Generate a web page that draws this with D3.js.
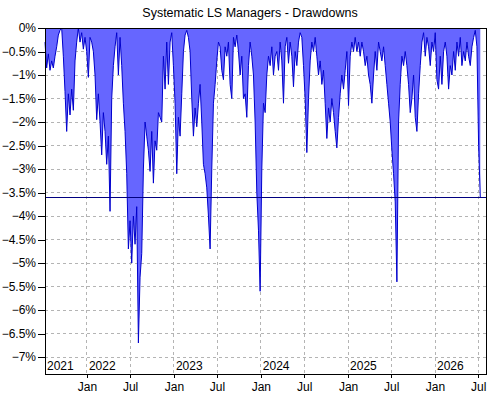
<!DOCTYPE html>
<html>
<head>
<meta charset="utf-8">
<script src="https://cdn.jsdelivr.net/npm/d3@7"></script>
<style>
  body { margin: 0; background: #fff; }
  svg { display: block; }
  text { font-family: "Liberation Sans", Arial, sans-serif; fill: #000; }
</style>
</head>
<body>
<svg width="500" height="400"></svg>
<script>
const title = "Systematic LS Managers - Drawdowns";

// weekly observations, first one on this date
const firstWeek = "2021-07-09";
const axisEnd = "2026-08-03";

// drawdown in %, one value per week
const drawdown = [
  -0.3, -0.85, -0.55, -0.9, -0.7, -0.85, -0.6, -0.4, -0.15, -0.05,
  0, -0.6, -1.35, -2.2, -1.4, -1.85, -1.3, -1.75, -0.7, -0.3,
  0, -0.3, -0.1, -0.45, -0.2, -0.5, -1.05, -0.2, -0.3, -0.5,
  -1.0, -1.95, -1.4, -2.0, -2.7, -1.8, -2.2, -2.9, -2.3, -3.9,
  -1.5, -0.8, -0.4, -0.1, -1.0, -0.2, -0.8, -1.6, -2.2, -3.1,
  -4.7, -4.1, -5.0, -4.0, -4.6, -3.8, -6.7, -5.3, -4.8, -3.0,
  -2.0, -2.3, -2.6, -3.05, -2.2, -3.3, -2.4, -2.6, -1.8, -1.9,
  -2.0, -0.6, -1.3, -0.3, -1.2, -0.3, -0.1, -0.8, -1.6, -3.1,
  -1.9, -2.3, -1.4, -0.5, -0.15, -0.05, -0.2, -0.5, -1.5, -2.3,
  -1.7, -2.1, -1.6, -1.2, -2.0, -2.9, -3.1, -3.4, -4.0, -4.7,
  -3.0, -1.6, -1.2, -0.7, -0.3, -0.4, -0.9, -1.1, -0.4, -0.6,
  -0.3, -1.2, -1.5, -0.2, -0.4, -0.15, -0.5, -1.0, -0.6, -1.5,
  -1.4, -1.9, -0.8, -0.3, -0.6, -1.0, -2.0, -3.5, -4.3, -5.6,
  -3.0, -1.6, -1.8, -1.0, -0.6, -0.8, -0.4, -1.0, -0.6, -0.5,
  -0.9, -0.3, -0.7, -1.6, -0.4, -0.2, -0.75, -0.3, -0.6, -1.25,
  -0.5, -0.8, -0.3, -0.1, -0.2, -0.8, -1.5, -2.65, -1.5, -0.7,
  -0.3, -0.5, -0.2, -0.6, -1.0, -0.7, -1.2, -0.9, -1.6, -2.35,
  -1.7, -2.0, -1.5, -1.8, -2.2, -2.55, -1.9, -1.4, -1.0, -1.3,
  -0.9, -0.5, -1.65, -0.6, -0.3, -0.5, -0.2, -0.5, -0.3, -0.6,
  -0.3, -0.5, -0.8, -0.6, -1.0, -1.2, -1.6, -1.0, -0.5, -0.9,
  -0.3, -0.5, -0.7, -0.4, -0.8, -1.2, -1.6, -2.0, -2.6, -3.1,
  -3.7, -5.4, -2.0, -1.2, -0.6, -0.8, -0.5, -0.8, -1.2, -1.8,
  -1.5, -1.0, -1.9, -2.2, -1.4, -0.8, -0.3, -0.1, -0.6, -0.2,
  -0.4, -0.8, -0.3, -0.5, -0.1, -1.1, -1.3, -0.6, -1.2, -0.5,
  -0.3, -0.6, -1.3, -0.8, -1.0, -0.5, -0.9, -0.3, -0.6, -0.2,
  -0.8, -0.5, -0.7, -0.3, -0.6, -0.8, -0.4, -0.2, -0.05, -0.4,
  -2.5, -3.6
];

const yTicks = [0, -0.5, -1, -1.5, -2, -2.5, -3, -3.5, -4, -4.5, -5, -5.5, -6, -6.5, -7];
const yMin = -7.36;

const margin = {top: 28, right: 14, bottom: 26, left: 45};
const width = 500, height = 400;

const start = d3.isoParse(firstWeek + "T00:00:00");
const end = d3.isoParse(axisEnd + "T00:00:00");
const data = drawdown.map((v, i) => ({date: d3.timeDay.offset(start, 7 * i), value: v}));

const svg = d3.select("svg");

const x = d3.scaleTime()
    .domain([start, end])
    .range([margin.left, width - margin.right]);

const y = d3.scaleLinear()
    .domain([yMin, 0])
    .range([height - margin.bottom, margin.top]);

const monthTicks = d3.timeMonth.every(6).range(start, end);

// grid
const grid = svg.append("g")
    .attr("stroke", "#b4b4b4")
    .attr("stroke-dasharray", "3,3")
    .attr("shape-rendering", "crispEdges");

grid.selectAll("line.h")
    .data(yTicks.filter(d => d < 0))
    .join("line")
    .attr("x1", margin.left).attr("x2", width - margin.right)
    .attr("y1", d => y(d)).attr("y2", d => y(d));

grid.selectAll("line.v")
    .data(monthTicks)
    .join("line")
    .attr("x1", d => x(d)).attr("x2", d => x(d))
    .attr("y1", margin.top).attr("y2", height - margin.bottom);

// drawdown area
const area = d3.area()
    .x(d => x(d.date))
    .y0(y(0))
    .y1(d => y(d.value));

const line = d3.line()
    .x(d => x(d.date))
    .y(d => y(d.value));

svg.append("path")
    .datum(data)
    .attr("fill", "#6666ff")
    .attr("d", area);

svg.append("path")
    .datum(data)
    .attr("fill", "none")
    .attr("stroke", "#0000cc")
    .attr("stroke-width", 1)
    .attr("d", line);

// current drawdown level
const current = data[data.length - 1].value;
svg.append("line")
    .attr("x1", margin.left).attr("x2", width - margin.right)
    .attr("y1", y(current)).attr("y2", y(current))
    .attr("stroke", "#000080")
    .attr("shape-rendering", "crispEdges");

// frame
svg.append("rect")
    .attr("x", margin.left).attr("y", margin.top)
    .attr("width", width - margin.right - margin.left)
    .attr("height", height - margin.bottom - margin.top)
    .attr("fill", "none")
    .attr("stroke", "#000")
    .attr("shape-rendering", "crispEdges");

// axes
const yAxis = d3.axisLeft(y)
    .tickValues(yTicks)
    .tickSize(7)
    .tickPadding(2)
    .tickFormat(d => (d === 0 ? "0" : d3.format("")(d)) + "%");

svg.append("g")
    .attr("transform", `translate(${margin.left},0)`)
    .call(yAxis)
    .call(g => g.select(".domain").remove())
    .call(g => g.selectAll("text").attr("font-size", 12).attr("fill", "#000"));

const xAxis = d3.axisBottom(x)
    .tickValues(monthTicks)
    .tickSize(4)
    .tickPadding(4)
    .tickFormat(d3.timeFormat("%b"));

svg.append("g")
    .attr("transform", `translate(0,${height - margin.bottom})`)
    .call(xAxis)
    .call(g => g.select(".domain").remove())
    .call(g => g.selectAll("text").attr("font-size", 12).attr("fill", "#000"));

svg.selectAll(".tick line").attr("stroke", "#000").attr("shape-rendering", "crispEdges");

// year labels inside the plot
const years = [start, ...d3.timeYear.range(d3.timeDay.offset(start, 1), end)];
svg.append("g")
    .selectAll("text")
    .data(years)
    .join("text")
    .attr("x", d => x(d) + 2)
    .attr("y", height - margin.bottom - 4)
    .attr("font-size", 12)
    .text(d3.timeFormat("%Y"));

// title
svg.append("text")
    .attr("x", 250)
    .attr("y", 17)
    .attr("text-anchor", "middle")
    .attr("font-size", 12.5)
    .text(title);
</script>
</body>
</html>
